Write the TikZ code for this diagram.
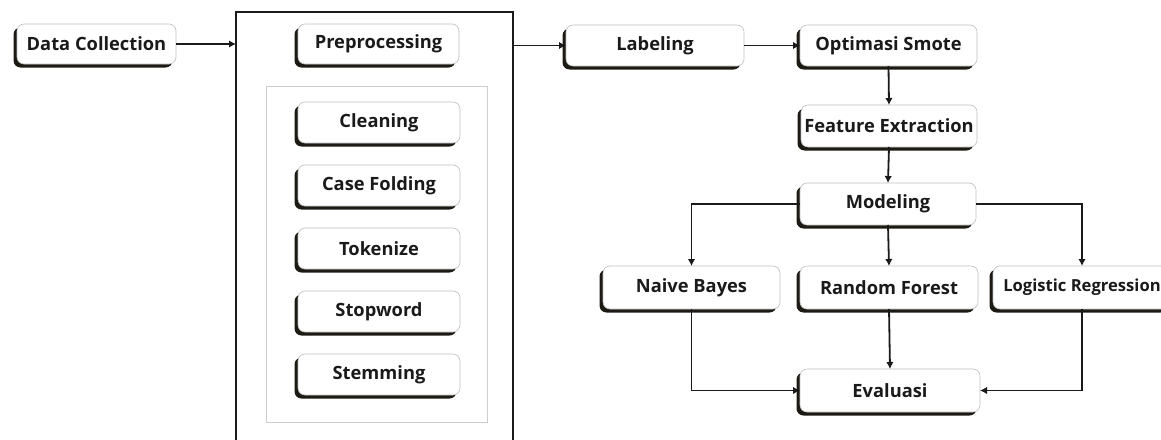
\documentclass[tikz,border=0pt]{standalone}
\usepackage{fontspec}
\setmainfont{Open Sans}
\usetikzlibrary{shadows,arrows.meta}

\definecolor{ink}{RGB}{26,26,26}
\definecolor{edgegray}{RGB}{190,190,190}
\definecolor{shade}{RGB}{28,26,18}
\definecolor{framegray}{RGB}{205,205,205}

\tikzset{
  x=1pt, y=1pt,
  proc/.style={draw=edgegray, line width=0.6pt, fill=white, rounded corners=7pt,
    minimum width=#1, minimum height=41pt, inner sep=0pt, outer sep=0pt,
    text=ink, font=\fontsize{18.3}{22}\selectfont\bfseries,
    general shadow={fill=shade, shadow xshift=-3.5pt, shadow yshift=-3.5pt}},
  proc/.default=178pt,
  link/.style={draw=ink, line width=1.8pt, -{Latex[length=7pt,width=7.5pt]}},
}

\begin{document}
\begin{tikzpicture}
\useasboundingbox (0,0) rectangle (1161,-439);

% preprocessing stage frame and its inner group
\node[draw=ink, line width=1.3pt, minimum width=277pt, minimum height=440pt,
      inner sep=0pt, outer sep=0pt, anchor=north west] (stage) at (236,-12) {};
\node[draw=framegray, line width=0.8pt, minimum width=221pt, minimum height=336pt,
      inner sep=0pt, outer sep=0pt, anchor=north west] (grp) at (266,-86) {};

% process boxes
\node[proc=159pt, minimum height=40pt] (dc)  at (96.5,-44)   {Data Collection};
\node[proc=161pt, minimum height=40pt] (pre) at (378.5,-44)  {Preprocessing};
\node[proc=162pt] (cln) at (379,-122.5) {Cleaning};
\node[proc=162pt] (cf)  at (379,-185.5) {Case Folding};
\node[proc=162pt] (tok) at (379,-248.5) {Tokenize};
\node[proc=162pt] (stw) at (379,-311.5) {Stopword};
\node[proc=162pt] (stm) at (379,-374.5) {Stemming};

\node[proc=178pt] (lab) at (655,-45.5)   {Labeling};
\node[proc=177pt] (opt) at (888.5,-45.5) {Optimasi Smote};
\node[proc=176pt, minimum height=42pt] (fe)  at (889,-126) {Feature Extraction};
\node[proc=176pt, minimum height=42pt] (mod) at (888,-204) {Modeling};
\node[proc=177pt, minimum height=43pt] (nb)  at (691.5,-287.5) {Naive Bayes};
\node[proc=178pt, minimum height=43pt] (rf)  at (889,-287.5)   {Random Forest};
\node[proc=178pt, minimum height=43pt, font=\fontsize{16.6}{20}\selectfont\bfseries]
      (lr)  at (1082,-287.5)  {Logistic Regression};
\node[proc=180pt, minimum height=43pt] (ev)  at (890,-390.5)   {Evaluasi};

% connectors
\draw[link] (dc.east) -- (dc.east -| stage.west);
\draw[link] (lab.west -| stage.east) -- (lab.west);
\draw[link] (lab.east) -- (opt.west);
\draw[link] (opt.south) -- (fe.north);
\draw[link] (fe.south) -- (mod.north);
\draw[link] (mod.west) -| (nb.north);
\draw[link] (mod.south) -- (rf.north);
\draw[link] (mod.east) -| (lr.north);
\draw[link] (nb.south) |- (ev.west);
\draw[link] (rf.south) -- (ev.north);
\draw[link] (lr.south) |- (ev.east);
\end{tikzpicture}
\end{document}
